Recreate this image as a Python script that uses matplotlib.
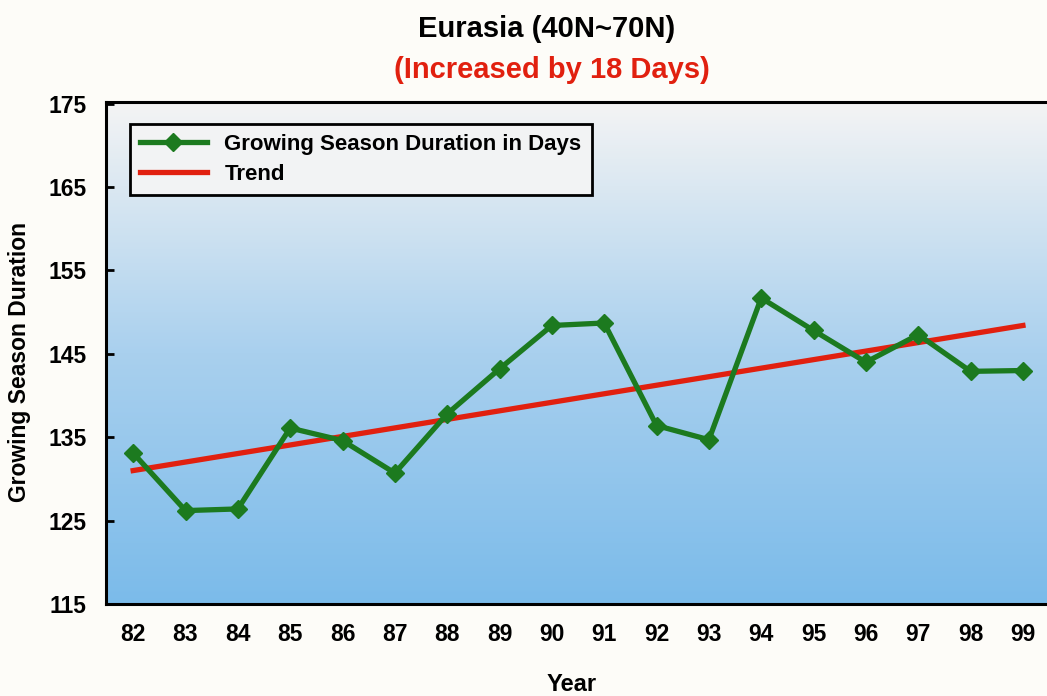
import matplotlib.pyplot as plt
import numpy as np
from matplotlib.colors import LinearSegmentedColormap

plt.rcParams['font.family'] = ['Liberation Sans', 'DejaVu Sans']
plt.rcParams['font.weight'] = 'bold'

# data
years = [82, 83, 84, 85, 86, 87, 88, 89, 90, 91, 92, 93, 94, 95, 96, 97, 98, 99]
duration = [133.1, 126.2, 126.4, 136.1, 134.6, 130.7, 137.8, 143.2, 148.4,
            148.7, 136.4, 134.7, 151.7, 147.8, 144.0, 147.3, 142.9, 143.0]
trend_years = [82, 99]
trend_vals = [131.0, 148.4]
yticks = [115, 125, 135, 145, 155, 165, 175]

fig = plt.figure(figsize=(10.47, 6.96), dpi=100)
fig.patch.set_facecolor('#fdfcf8')
ax = fig.add_axes([0.1012, 0.1322, 0.8988, 0.7212])

xlim = (81.48, 99.46)
ylim = (115, 175.2)

# gradient background
cmap = LinearSegmentedColormap.from_list('bg', ['#7bbbea', '#a9d0ee', '#f4f4f4'])
grad = np.linspace(0, 1, 256).reshape(-1, 1)
ax.imshow(grad, extent=[xlim[0], xlim[1], ylim[0], ylim[1]], origin='lower',
          aspect='auto', cmap=cmap, zorder=0)

ax.plot(years, duration, color='#1c7a1f', lw=3.8, marker='D', ms=9,
        label='Growing Season Duration in Days', zorder=3)
ax.plot(trend_years, trend_vals, color='#e1200f', lw=3.8, label='Trend', zorder=2)

ax.set_xlim(xlim)
ax.set_ylim(ylim)
ax.set_xticks(years)
ax.set_xticklabels([str(y) for y in years])
ax.set_yticks(yticks)
ax.tick_params(axis='x', length=0, pad=14, labelsize=16.5)
ax.tick_params(axis='y', direction='in', length=6, width=2, pad=14, labelsize=16.5)

for s in ['left', 'top', 'bottom']:
    ax.spines[s].set_linewidth(2.2)
ax.spines['right'].set_visible(False)

fig.text(0.019, 0.48, 'Growing Season Duration', ha='center', va='center',
         rotation=90, fontsize=16.5, fontweight='bold')
fig.text(0.546, 0.016, 'Year', ha='center', va='center',
         fontsize=17, fontweight='bold')

fig.text(0.522, 0.958, 'Eurasia (40N~70N)', ha='center', va='center',
         fontsize=21, fontweight='bold', color='black')
fig.text(0.527, 0.899, '(Increased by 18 Days)', ha='center', va='center',
         fontsize=21, fontweight='bold', color='#e1200f')

leg = ax.legend(loc='upper left', bbox_to_anchor=(0.0255, 0.957), fontsize=16,
                frameon=True, fancybox=False, edgecolor='black',
                facecolor='#f2f3f4', framealpha=1, handlelength=3.0,
                borderpad=0.45, labelspacing=0.4, borderaxespad=0)
leg.get_frame().set_linewidth(2)
for t in leg.get_texts():
    t.set_fontweight('bold')

plt.savefig('out.png', dpi=100, facecolor=fig.get_facecolor())
